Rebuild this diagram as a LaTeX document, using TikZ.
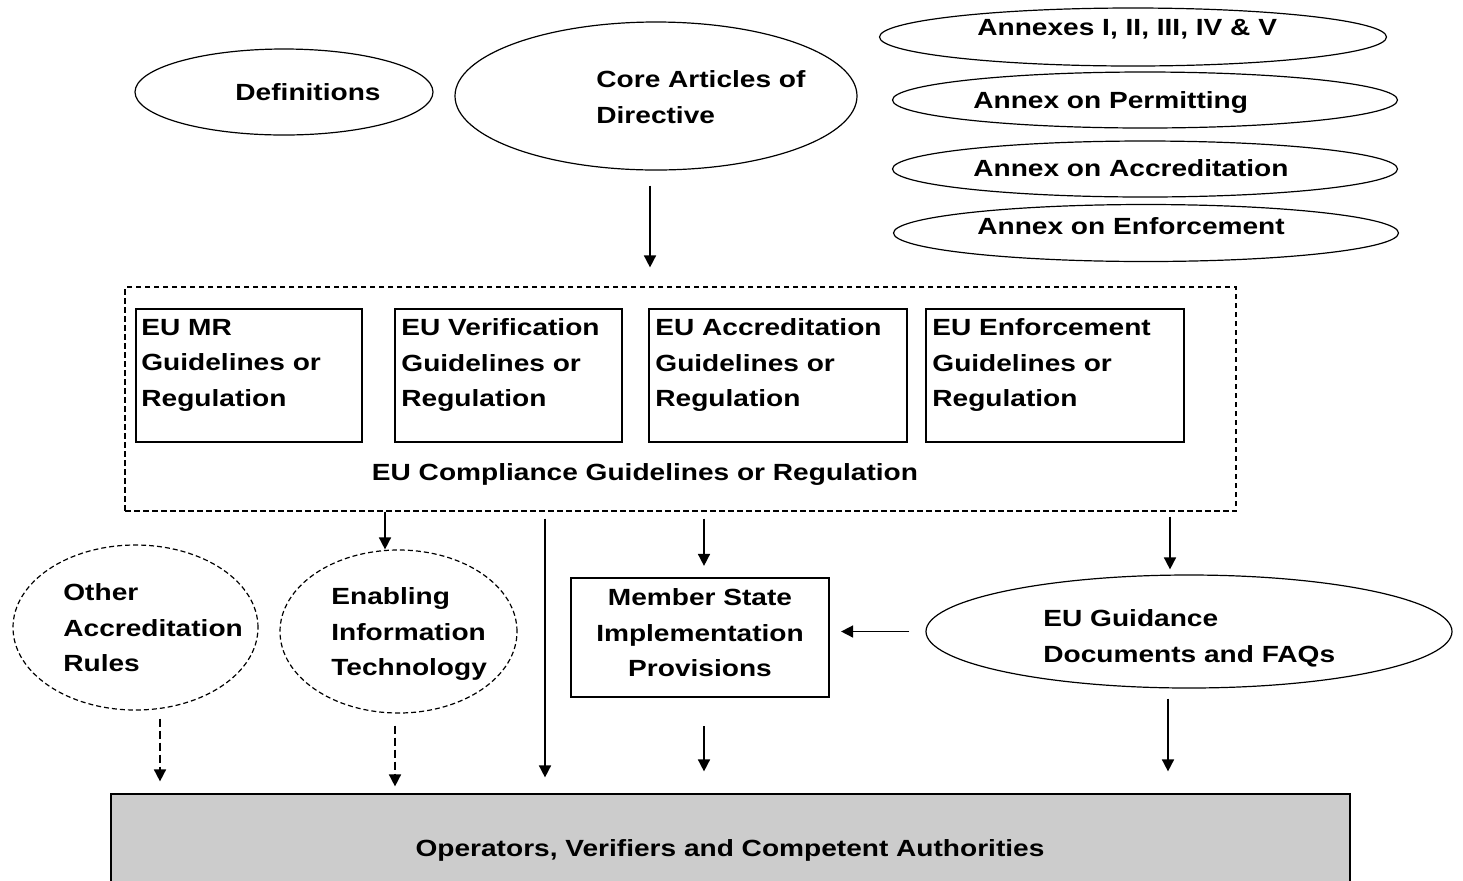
\documentclass[tikz,border=0pt]{standalone}
\usepackage{fontspec}
\setmainfont[FakeStretch=1.2]{Liberation Sans}
\usetikzlibrary{shapes.geometric,arrows.meta}
\begin{document}
\begin{tikzpicture}[x=0.5pt,y=-0.5pt,
  txt/.style={font=\bfseries\fontsize{11.7}{17.75}\selectfont,inner sep=0pt,align=left,anchor=north west},
  ctxt/.style={txt,align=center,anchor=north},
  oval/.style={draw,ellipse,line width=0.6pt,inner sep=0pt},
  doval/.style={oval,dash pattern=on 2.5pt off 1.5pt},
  gbox/.style={draw,rectangle,line width=0.6pt,inner sep=0pt},
  arr/.style={-{Triangle[length=6pt,width=6pt]},line width=0.8pt},
  darr/.style={arr,dash pattern=on 4pt off 2pt}]
\useasboundingbox (0,0) rectangle (1463,880);
% directive and annexes
\node[oval,minimum width=149pt,minimum height=43pt] (def) at (284,92) {};
\node[oval,minimum width=201pt,minimum height=74pt] (core) at (656,96) {};
\node[oval,minimum width=253.5pt,minimum height=29pt] (ann) at (1133,37) {};
\node[oval,minimum width=252.5pt,minimum height=28pt] (perm) at (1145,100) {};
\node[oval,minimum width=252.5pt,minimum height=28pt] (accr) at (1145,169) {};
\node[oval,minimum width=252.5pt,minimum height=28.5pt] (enfo) at (1146,233) {};
\node[ctxt] (defT) at (308,83.6) {Definitions};
\node[txt] (coreT) at (596,70.6) {Core Articles of\\Directive};
\node[txt] (annT) at (977,18.6) {Annexes I, II, III, IV \& V};
\node[txt] (permT) at (973,91) {Annex on Permitting};
\node[txt] (accrT) at (973,159.6) {Annex on Accreditation};
\node[txt] (enfoT) at (977,217) {Annex on Enforcement};
% compliance guidelines
\node[gbox,dash pattern=on 2.75pt off 1.75pt,minimum width=555.5pt,minimum height=112pt] (comp) at (680.5,399) {};
\node[gbox,minimum width=113pt,minimum height=66.5pt] (mr) at (249,375.5) {};
\node[gbox,minimum width=113.5pt,minimum height=66.5pt] (ver) at (508.5,375.5) {};
\node[gbox,minimum width=129pt,minimum height=66.5pt] (acc) at (778,375.5) {};
\node[gbox,minimum width=129pt,minimum height=66.5pt] (enf) at (1055,375.5) {};
\node[txt] (mrT) at (141,318.6) {EU MR\\Guidelines or\\Regulation};
\node[txt] (verT) at (401,318.6) {EU Verification\\Guidelines or\\Regulation};
\node[txt] (accT) at (655,318.6) {EU Accreditation\\Guidelines or\\Regulation};
\node[txt] (enfT) at (932,318.6) {EU Enforcement\\Guidelines or\\Regulation};
\node[ctxt] (compT) at (645,463.6) {EU Compliance Guidelines or Regulation};
% middle row
\node[doval,minimum width=122.5pt,minimum height=82.5pt] (oth) at (135.5,627.5) {};
\node[doval,minimum width=118.5pt,minimum height=81.5pt] (ena) at (398.5,631.5) {};
\node[gbox,line width=1.1pt,minimum width=129pt,minimum height=59.5pt] (ms) at (700,637.5) {};
\node[oval,minimum width=263pt,minimum height=56.5pt] (guid) at (1189,631.5) {};
\node[txt] (othT) at (63,583.6) {Other\\Accreditation\\Rules};
\node[txt] (enaT) at (331,587.6) {Enabling\\Information\\Technology};
\node[ctxt] (msT) at (700,588.6) {Member State\\Implementation\\Provisions};
\node[txt] (guidT) at (1043,609.6) {EU Guidance\\Documents and FAQs};
% bottom
\node[gbox,fill=black!20,minimum width=619.5pt,minimum height=46pt] (ops) at (730.5,840) {};
\node[ctxt] (opsT) at (730,839.6) {Operators, Verifiers and Competent Authorities};
% arrows
\draw[arr,shorten <=7.5pt,shorten >=9.5pt] ([xshift=-3pt]core.south) -- ([xshift=-3pt]core.south |- comp.north);
\draw[arr] ([xshift=-6.75pt]ena.north |- comp.south) -- ([xshift=-6.75pt]ena.north);
\draw[arr,shorten <=3.5pt,shorten >=8pt] ([xshift=-67.75pt]comp.south) -- ([xshift=-67.75pt]comp.south |- ops.north);
\draw[arr,shorten <=3.5pt,shorten >=5.5pt] ([xshift=2pt]ms.north |- comp.south) -- ([xshift=2pt]ms.north);
\draw[arr,shorten <=2.5pt,shorten >=2.5pt] ([xshift=-9.5pt]guid.north |- comp.south) -- ([xshift=-9.5pt]guid.north);
\draw[arr,shorten <=8pt,shorten >=5.5pt] (guid.west) -- (guid.west -| ms.east);
\draw[darr,shorten <=4pt,shorten >=6pt] ([xshift=12.25pt]oth.south) -- ([xshift=12.25pt]oth.south |- ops.north);
\draw[darr,shorten <=6pt,shorten >=3.5pt] ([xshift=-1.75pt]ena.south) -- ([xshift=-1.75pt]ena.south |- ops.north);
\draw[arr,shorten <=14pt,shorten >=11pt] ([xshift=2pt]ms.south) -- ([xshift=2pt]ms.south |- ops.north);
\draw[arr,shorten <=5pt,shorten >=11pt] ([xshift=-10.5pt]guid.south) -- ([xshift=-10.5pt]guid.south |- ops.north);
\end{tikzpicture}
\end{document}
